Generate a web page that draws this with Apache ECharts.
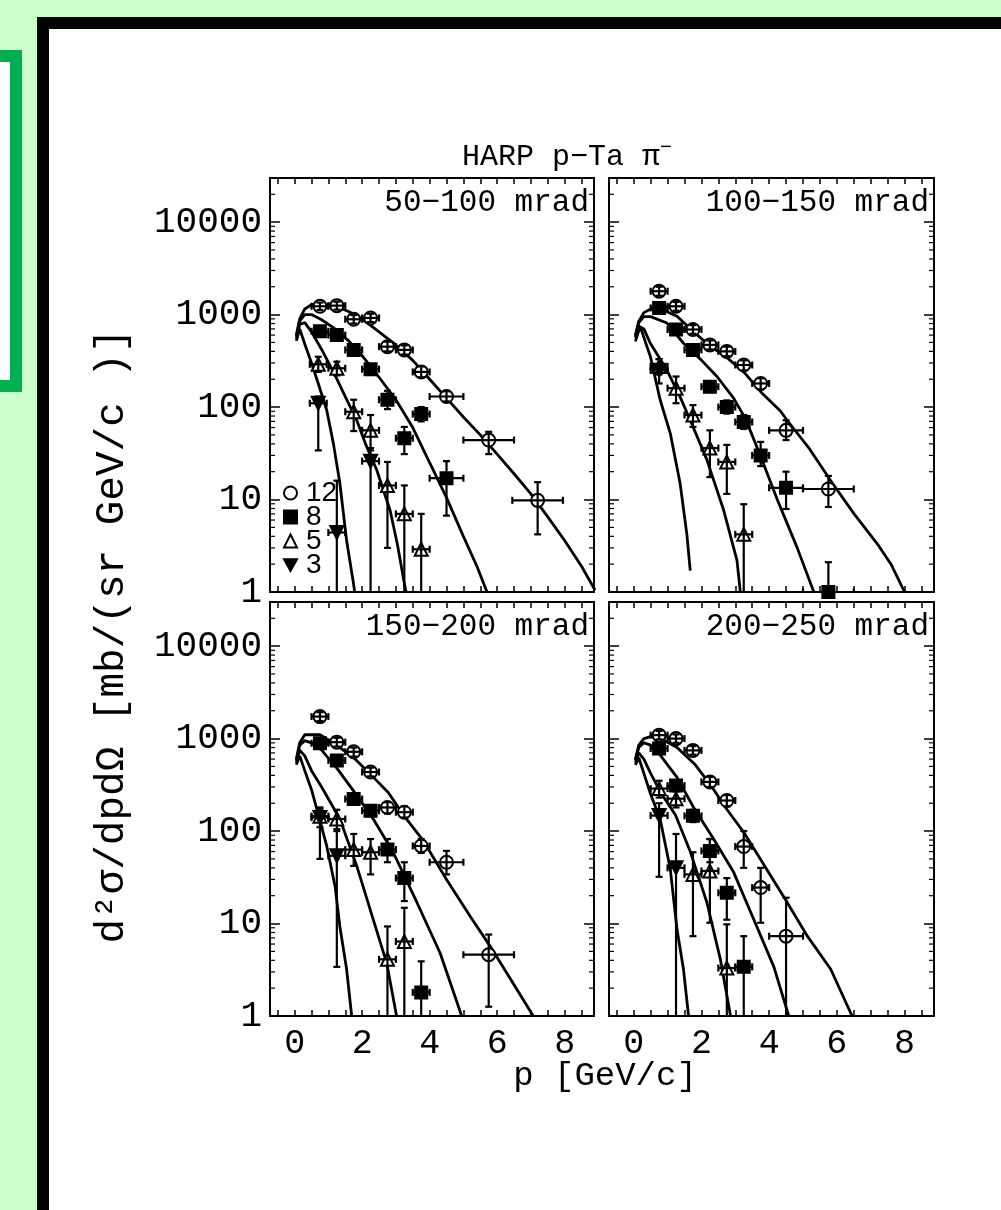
<!DOCTYPE html>
<html><head><meta charset="utf-8">
<script src="https://cdn.jsdelivr.net/npm/echarts@6/dist/echarts.min.js"></script>
<style>
html,body{margin:0;padding:0;width:1001px;height:1210px;overflow:hidden;background:#ccffcc;}
#frame{position:absolute;left:37px;top:17px;width:1100px;height:1300px;background:#fff;border-left:12px solid #000;border-top:12px solid #000;}
#gbox{position:absolute;left:-20px;top:50px;width:18px;height:318px;background:#fff;border:12px solid #00b050;}
#chart{position:absolute;left:0;top:0;width:1001px;height:1210px;}
</style></head><body>
<div id="gbox"></div><div id="frame"></div><div id="chart"></div>
<script>
// ---- tick labels / categories ----
const PANEL_LABELS = ['50\u2212100 mrad','100\u2212150 mrad','150\u2212200 mrad','200\u2212250 mrad'];
const ENERGIES = ['12','8','5','3'];
const X_LABELS = [0,2,4,6,8];
const X_TICKS = [-0.5,0,0.5,1,1.5,2,2.5,3,3.5,4,4.5,5,5.5,6,6.5,7,7.5,8,8.5];
const Y_LABELS = [1,10,100,1000,10000];
const Y_MINOR = [2,3,4,5,6,7,8,9,20,30,40,50,60,70,80,90,200,300,400,500,600,700,800,900,2000,3000,4000,5000,6000,7000,8000,9000,20000];

// ---- data points: [p, value, half-width in p, lower, upper] ----
const tl12 = [[0.75,1230,.25,1120,1350],[1.25,1250,.25,1130,1380],[1.75,890,.25,800,990],[2.25,920,.25,830,1020],[2.75,450,.25,400,510],[3.25,415,.25,370,465],[3.75,240,.25,210,275],[4.5,130,.5,115,148],[5.75,44,.75,31,54],[7.2,9.8,.75,4.2,15.4]];
const tl8  = [[0.75,660,.25,600,730],[1.25,600,.25,540,670],[1.75,415,.25,370,465],[2.25,257,.25,230,290],[2.75,120,.25,95,150],[3.25,46,.25,31,61],[3.75,84,.25,70,100],[4.5,17,.5,6.7,26]];
const tl5  = [[0.7,290,.25,240,350],[1.25,263,.25,220,310],[1.75,89,.25,55,120],[2.25,56,.25,34,82],[2.75,14.2,.25,3.0,25.5],[3.25,7,.25,0.5,14.2],[3.75,2.9,.25,0.5,7]];
const tl3  = [[0.7,110,.25,34,130],[1.25,4.4,.25,0.5,16],[2.25,26,.25,0.5,36]];

const tr12 = [[0.75,1790,.25,1600,2000],[1.25,1230,.25,1100,1370],[1.75,690,.25,620,770],[2.25,470,.25,420,525],[2.75,400,.25,355,450],[3.25,285,.25,250,320],[3.75,180,.25,155,205],[4.5,56,.5,44,72],[5.75,13,.75,8.3,18]];
const tr8  = [[0.75,1180,.25,1050,1320],[1.25,690,.25,620,770],[1.75,415,.25,370,465],[2.25,166,.25,145,190],[2.75,100,.25,85,118],[3.25,69,.25,58,82],[3.75,30,.25,23,42],[4.5,13.4,.5,7.9,20],[5.75,1.0,.75,0.5,2.1]];
const tr5  = [[0.75,275,.25,225,330],[1.25,160,.25,110,214],[1.75,82,.25,61,105],[2.25,36,.25,17.5,56],[2.75,25.5,.25,11.5,39],[3.25,4.2,.25,0.5,8.9]];
const tr3  = [[0.75,250,.25,180,330]];

const bl12 = [[0.75,1730,.25,1550,1930],[1.25,915,.25,820,1020],[1.75,720,.25,640,800],[2.25,435,.25,390,485],[2.75,180,.25,155,205],[3.25,160,.25,140,185],[3.75,69,.25,58,82],[4.5,46,.5,34,61],[5.75,4.6,.75,1.26,7.6]];
const bl8  = [[0.75,890,.25,800,990],[1.25,580,.25,520,650],[1.75,222,.25,195,250],[2.25,166,.25,145,190],[2.75,63,.25,46,82],[3.25,31,.25,17.5,46],[3.75,1.8,.25,0.5,3.9]];
const bl5  = [[0.75,145,.25,110,180],[1.25,135,.25,100,170],[1.75,63,.25,42,93],[2.25,59,.25,34,82],[2.75,4.1,.25,0.5,9.3],[3.25,6.4,.25,0.5,14.8]];
const bl3  = [[0.75,140,.25,50,174],[1.25,54,.25,3.4,105]];

const br12 = [[0.75,1090,.25,980,1210],[1.25,1000,.25,900,1110],[1.75,745,.25,670,830],[2.25,340,.25,300,385],[2.75,214,.25,185,245],[3.25,68,.25,40,100],[3.75,24.5,.25,10.2,40],[4.5,7.3,.5,0.5,19]];
const br8  = [[0.75,780,.25,700,870],[1.25,310,.25,270,355],[1.75,146,.25,125,170],[2.25,61,.25,46,82],[2.75,21.5,.25,11,31],[3.25,3.4,.25,0.5,7.3]];
const br5  = [[0.75,288,.25,230,350],[1.25,224,.25,180,270],[1.75,34,.25,7.3,59],[2.25,37,.25,10.2,82],[2.75,3.3,.25,0.5,9.8]];
const br3  = [[0.75,147,.25,32,200],[1.25,40,.25,0.5,93]];

// ---- model curves: [p, value] ----
const tlC12 = [[0.05,600],[0.15,900],[0.3,1150],[0.5,1280],[0.8,1300],[1.2,1230],[1.6,1080],[2.0,900],[2.5,650],[3.0,470],[3.5,320],[4.0,200],[4.5,125],[5.0,78],[5.5,50],[6.0,31],[6.5,19],[7.0,11.5],[7.5,6.5],[8.0,3.6],[8.5,1.9],[8.9,1.05]];
const tlC8  = [[0.05,580],[0.15,850],[0.3,1000],[0.5,1000],[0.8,880],[1.2,700],[1.6,520],[2.0,360],[2.5,210],[3.0,120],[3.5,60],[4.0,25],[4.5,10.5],[5.0,4],[5.4,1.9],[5.7,1.0]];
const tlC5  = [[0.05,550],[0.15,780],[0.3,820],[0.5,650],[0.8,420],[1.2,220],[1.5,130],[1.84,72],[2.1,40],[2.43,21],[2.83,7.6],[3.05,3.2],[3.24,1.3],[3.3,1.0]];
const tlC3  = [[0.05,520],[0.15,700],[0.3,480],[0.5,300],[0.7,180],[0.95,93],[1.15,40],[1.34,15],[1.54,3.6],[1.74,1.26],[1.78,1.0]];

const trC12 = [[0.05,600],[0.15,850],[0.3,1050],[0.5,1150],[0.8,1150],[1.28,960],[1.77,650],[2.26,455],[2.76,340],[3.25,240],[3.8,140],[4.34,90],[4.53,72],[5.2,35],[5.87,15],[6.51,7],[7.2,3.3],[7.6,2],[8.0,1.0]];
const trC8  = [[0.05,580],[0.15,820],[0.3,950],[0.5,950],[0.98,810],[1.47,490],[1.97,330],[2.46,214],[2.95,125],[3.3,75],[3.74,30],[4.24,10],[4.83,3],[5.32,1.0]];
const trC5  = [[0.05,560],[0.15,750],[0.3,700],[0.49,490],[0.98,251],[1.37,129],[1.67,72],[2.16,27],[2.66,7.6],[3.05,2.2],[3.15,1.0]];
const trC3  = [[0.05,514],[0.19,745],[0.35,500],[0.49,355],[0.78,120],[1.08,52],[1.37,15],[1.57,4.2],[1.67,1.7]];

const blC12 = [[0.05,600],[0.15,900],[0.3,1100],[0.5,1100],[0.75,1100],[1.25,850],[1.79,600],[2.28,400],[2.78,260],[3.22,150],[3.8,80],[4.5,30],[5.2,12],[5.79,5.7],[6.4,2.5],[7.07,1.0]];
const blC8  = [[0.05,580],[0.15,850],[0.3,950],[0.5,900],[0.8,750],[1.25,480],[1.75,270],[2.33,135],[2.92,59],[3.62,17],[4.31,4.8],[4.95,1.0]];
const blC5  = [[0.05,550],[0.15,750],[0.3,650],[0.5,450],[0.8,300],[1.34,135],[1.84,42],[2.33,11],[2.73,3.7],[3.02,1.0]];
const blC3  = [[0.05,520],[0.15,650],[0.3,450],[0.5,280],[0.75,130],[0.95,69],[1.2,25],[1.34,9.3],[1.54,3.2],[1.69,1.0]];

const brC12 = [[0.05,600],[0.15,850],[0.3,1000],[0.5,1050],[0.8,1000],[1.28,800],[1.82,520],[2.31,300],[2.76,170],[3.25,97],[3.9,40],[4.53,17],[5.13,7.3],[5.82,3.2],[6.45,1.0]];
const brC8  = [[0.05,580],[0.15,800],[0.3,900],[0.5,850],[0.8,650],[1.28,380],[1.77,180],[2.36,82],[2.95,36],[3.55,11],[4.14,3.4],[4.58,1.0]];
const brC5  = [[0.05,550],[0.15,700],[0.3,600],[0.5,420],[0.8,260],[1.23,150],[1.67,60],[2.16,17],[2.56,4.1],[2.86,1.0]];
const brC3  = [[0.05,520],[0.15,620],[0.3,420],[0.5,250],[0.78,135],[1.08,39],[1.28,8.6],[1.47,3.2],[1.62,1.0]];

const PANEL_POINTS = [[tl12,tl8,tl5,tl3],[tr12,tr8,tr5,tr3],[bl12,bl8,bl5,bl3],[br12,br8,br5,br3]];
const PANEL_CURVES = [[tlC12,tlC8,tlC5,tlC3],[trC12,trC8,trC5,trC3],[blC12,blC8,blC5,blC3],[brC12,brC8,brC5,brC3]];

// ---- presentation ----
const FONT = 'Liberation Mono';
const GRIDS = [
  {left:270, top:178, width:324, height:414},
  {left:609, top:178, width:325, height:414},
  {left:270, top:602, width:324, height:414},
  {left:609, top:602, width:325, height:414}
];
const X_MIN = -0.73, X_MAX = 8.87, Y_MIN = 1, Y_MAX = 30000;
const SYMBOLS = [
  {symbol:'circle', size:13, color:'#fff', border:'#000'},
  {symbol:'rect', size:12, color:'#000', border:'#000'},
  {symbol:'triangle', size:13, color:'#fff', border:'#000'},
  {symbol:'path://M0,0 L10,0 L5,9 Z', size:13, color:'#000', border:'#000'}
];

const xAxis = [], yAxis = [], series = [];
GRIDS.forEach((g, gi) => {
  const isBottom = gi >= 2, isLeft = gi % 2 === 0;
  ['bottom','top'].forEach(pos => {
    xAxis.push({
      type:'value', gridIndex:gi, position:pos, min:X_MIN, max:X_MAX,
      axisLine:{show:true, onZero:false, lineStyle:{color:'#000', width:2}},
      axisTick:{show:true, inside:true, length:6, customValues:X_TICKS, lineStyle:{color:'#000', width:1.5}},
      axisLabel:{show: pos==='bottom' && isBottom, customValues:X_LABELS, margin:10,
        fontFamily:FONT, fontSize:35, color:'#000'},
      splitLine:{show:false}
    });
  });
  ['left','right'].forEach(pos => {
    yAxis.push({
      type:'log', logBase:10, gridIndex:gi, position:pos, min:Y_MIN, max:Y_MAX,
      axisLine:{show:true, onZero:false, lineStyle:{color:'#000', width:2}},
      axisTick:{show:true, inside:true, length:10, customValues:Y_LABELS, lineStyle:{color:'#000', width:1.5}},
      axisLabel:{show: pos==='left' && isLeft, customValues:Y_LABELS, margin:8,
        formatter: v => String(v), fontFamily:FONT, fontSize:36, color:'#000'},
      splitLine:{show:false}
    });
  });
  const xi = gi*2, yi = gi*2;
  // minor log ticks on both vertical edges, positioned through the log axis
  series.push({type:'custom', name:'minorTicks', xAxisIndex:xi, yAxisIndex:yi, clip:false, z:5, silent:true,
    data: Y_MINOR.map(v => [X_MIN, v]), encode:{x:0, y:1},
    renderItem:(params, api) => {
      const v = api.value(1);
      const l = api.coord([X_MIN, v]), r = api.coord([X_MAX, v]);
      const st = {stroke:'#000', lineWidth:1.2};
      return {type:'group', children:[
        {type:'line', shape:{x1:l[0], y1:l[1], x2:l[0]+5, y2:l[1]}, style:st},
        {type:'line', shape:{x1:r[0], y1:r[1], x2:r[0]-5, y2:r[1]}, style:st}
      ]};
    }
  });
  PANEL_CURVES[gi].forEach((c, k) => {
    series.push({type:'line', name:'model'+ENERGIES[k], xAxisIndex:xi, yAxisIndex:yi, data:c,
      showSymbol:false, symbol:'none', smooth:false, lineStyle:{color:'#000', width:2.8}, z:2, silent:true});
  });
  PANEL_POINTS[gi].forEach((pts, k) => {
    const s = SYMBOLS[k];
    series.push({type:'scatter', name:ENERGIES[k], xAxisIndex:xi, yAxisIndex:yi,
      data:pts.map(d => [d[0], d[1]]), symbol:s.symbol, symbolSize:s.size,
      itemStyle:{color:s.color, borderColor:s.border, borderWidth:2, opacity:1}, z:3});
    series.push({type:'custom', name:'err'+ENERGIES[k], xAxisIndex:xi, yAxisIndex:yi, clip:true, z:4,
      data:pts, encode:{x:0, y:1},
      renderItem:(params, api) => {
        const p = api.value(0), v = api.value(1), dp = api.value(2), lo = api.value(3), hi = api.value(4);
        const a = api.coord([p - dp, v]), b = api.coord([p + dp, v]);
        const c1 = api.coord([p, lo]), c2 = api.coord([p, hi]);
        const cap = 3.5, st = {stroke:'#000', lineWidth:2.2};
        const L = (x1,y1,x2,y2) => ({type:'line', shape:{x1,y1,x2,y2}, style:st});
        return {type:'group', children:[
          L(a[0],a[1],b[0],b[1]), L(c1[0],c1[1],c2[0],c2[1]),
          L(a[0],a[1]-cap,a[0],a[1]+cap), L(b[0],b[1]-cap,b[0],b[1]+cap),
          L(c1[0]-cap,c1[1],c1[0]+cap,c1[1]), L(c2[0]-cap,c2[1],c2[0]+cap,c2[1])
        ]};
      }
    });
  });
});

const graphic = GRIDS.map((g, gi) => ({type:'text', right: 1001 - (g.left + g.width - 5), top: g.top + 9,
  style:{text:PANEL_LABELS[gi], fontFamily:FONT, fontSize:31, fill:'#000'}}));
graphic.push({type:'text', x:567, y:157, style:{text:'HARP p\u2212Ta \u03c0{s|\u2212}', fontFamily:FONT, fontSize:30, fill:'#000',
  textAlign:'center', textVerticalAlign:'middle', rich:{s:{fontFamily:FONT, fontSize:20, verticalAlign:'top', padding:[0,0,18,0]}}}});
graphic.push({type:'text', x:605, y:1076, style:{text:'p [GeV/c]', fontFamily:FONT, fontSize:34, fill:'#000',
  textAlign:'center', textVerticalAlign:'middle'}});
graphic.push({type:'text', x:112, y:636, rotation:Math.PI/2, style:{text:'d\u00b2\u03c3/dpd\u03a9 [mb/(sr GeV/c )]', fontFamily:FONT, fontSize:41, fill:'#000',
  textAlign:'center', textVerticalAlign:'middle'}});

const chart = echarts.init(document.getElementById('chart'), null, {renderer:'canvas'});
chart.setOption({
  animation:false,
  backgroundColor:'transparent',
  grid: GRIDS.map(g => Object.assign({containLabel:false}, g)),
  xAxis, yAxis, series, graphic,
  legend:{data:ENERGIES, orient:'vertical', left:278, top:474, itemWidth:13, itemHeight:13, itemGap:-4,
    selectedMode:false, textStyle:{fontFamily:'Liberation Sans', fontSize:28, color:'#000', padding:[0,0,0,4]}},
  tooltip:{show:false}
});
</script></body></html>
